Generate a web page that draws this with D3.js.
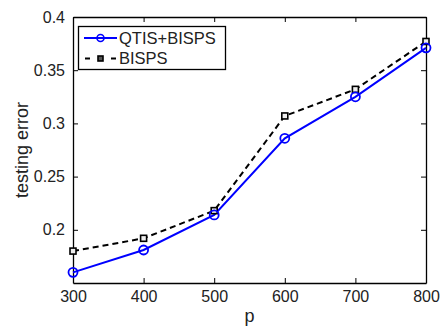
<!DOCTYPE html>
<html>
<head>
<meta charset="utf-8">
<script src="https://cdn.jsdelivr.net/npm/d3@7"></script>
<style>
  body { margin: 0; background: #fff; }
  text { font-family: "Liberation Sans", Arial, sans-serif; fill: #222; }
</style>
</head>
<body>
<script>
const pValues = [300, 400, 500, 600, 700, 800]
const qtisBisps = [0.160, 0.181, 0.214, 0.286, 0.325, 0.371]
const bisps = [0.180, 0.192, 0.218, 0.307, 0.332, 0.377]
const xTicks = [300, 400, 500, 600, 700, 800]
const yTicks = [0.2, 0.25, 0.3, 0.35, 0.4]

const width = 441
const height = 329
const margin = {top: 17, left: 73, bottom: 46, right: 15}

const x = d3.scaleLinear().domain([300, 800]).range([margin.left, width - margin.right])
const y = d3.scaleLinear().domain([0.15, 0.4]).range([height - margin.bottom, margin.top])

const svg = d3.select("body").append("svg")
    .attr("width", width)
    .attr("height", height)

const fmtY = d => d3.format(".2f")(d).replace(/0$/, "")

// axes (ticks inward, mirrored on top/right like matlab)
svg.append("g")
    .attr("transform", `translate(0,${y.range()[0]})`)
    .call(d3.axisBottom(x).tickValues(xTicks).tickSizeInner(-5).tickSizeOuter(0).tickPadding(8))
svg.append("g")
    .attr("transform", `translate(0,${y.range()[1]})`)
    .call(d3.axisTop(x).tickValues(xTicks).tickSizeInner(-5).tickSizeOuter(0).tickFormat(""))
svg.append("g")
    .attr("transform", `translate(${x.range()[0]},0)`)
    .call(d3.axisLeft(y).tickValues(yTicks).tickSizeInner(-5).tickSizeOuter(0).tickPadding(8).tickFormat(fmtY))
svg.append("g")
    .attr("transform", `translate(${x.range()[1]},0)`)
    .call(d3.axisRight(y).tickValues(yTicks).tickSizeInner(-5).tickSizeOuter(0).tickFormat(""))

svg.selectAll(".domain").attr("stroke", "#000").attr("stroke-width", 1.3)
svg.selectAll(".tick line").attr("stroke", "#000")
svg.selectAll(".tick text")
    .style("font-size", "16px")
    .style("font-family", "'Liberation Sans', Arial, sans-serif")
    .attr("fill", "#1a1a1a")

// axis labels
svg.append("text")
    .attr("x", (x.range()[0] + x.range()[1]) / 2)
    .attr("y", 322)
    .attr("text-anchor", "middle")
    .style("font-size", "18px")
    .text("p")
svg.append("text")
    .attr("transform", `translate(28,${(y.range()[0] + y.range()[1]) / 2}) rotate(-90)`)
    .attr("text-anchor", "middle")
    .style("font-size", "18px")
    .text("testing error")

const line = d3.line()
    .x((d, i) => x(pValues[i]))
    .y(d => y(d))

svg.append("path")
    .datum(bisps)
    .attr("d", line)
    .attr("fill", "none")
    .attr("stroke", "#000")
    .attr("stroke-width", 2)
    .attr("stroke-dasharray", "6,4")

svg.append("path")
    .datum(qtisBisps)
    .attr("d", line)
    .attr("fill", "none")
    .attr("stroke", "#0000ff")
    .attr("stroke-width", 2)

svg.append("g").selectAll("rect")
    .data(bisps)
    .enter()
    .append("rect")
    .attr("x", (d, i) => x(pValues[i]) - 3)
    .attr("y", d => y(d) - 3)
    .attr("width", 6)
    .attr("height", 6)
    .attr("fill", "#eee")
    .attr("stroke", "#000")
    .attr("stroke-width", 1.6)

svg.append("g").selectAll("circle")
    .data(qtisBisps)
    .enter()
    .append("circle")
    .attr("cx", (d, i) => x(pValues[i]))
    .attr("cy", d => y(d))
    .attr("r", 4.5)
    .attr("fill", "none")
    .attr("stroke", "#0000ff")
    .attr("stroke-width", 1.8)

// legend
const legend = svg.append("g").attr("class", "legend")
legend.append("rect")
    .attr("x", 78.5).attr("y", 26.5)
    .attr("width", 147).attr("height", 43)
    .attr("fill", "#fff")
    .attr("stroke", "#000")
    .attr("stroke-width", 1.3)

legend.append("line")
    .attr("x1", 84).attr("x2", 117).attr("y1", 38).attr("y2", 38)
    .attr("stroke", "#0000ff").attr("stroke-width", 2)
legend.append("circle")
    .attr("cx", 100.5).attr("cy", 38).attr("r", 3.5)
    .attr("fill", "none").attr("stroke", "#0000ff").attr("stroke-width", 1.6)
legend.append("text")
    .attr("x", 119).attr("y", 44)
    .style("font-size", "16.5px")
    .text("QTIS+BISPS")

// dashed sample: short dash, marker, short dash
legend.append("line")
    .attr("x1", 85).attr("x2", 90).attr("y1", 58.5).attr("y2", 58.5)
    .attr("stroke", "#000").attr("stroke-width", 2)
legend.append("line")
    .attr("x1", 111).attr("x2", 116).attr("y1", 58.5).attr("y2", 58.5)
    .attr("stroke", "#000").attr("stroke-width", 2)
legend.append("rect")
    .attr("x", 98).attr("y", 56).attr("width", 5).attr("height", 5)
    .attr("fill", "#555").attr("stroke", "#000").attr("stroke-width", 1.6)
legend.append("text")
    .attr("x", 119).attr("y", 64)
    .style("font-size", "16.5px")
    .text("BISPS")
</script>
</body>
</html>
